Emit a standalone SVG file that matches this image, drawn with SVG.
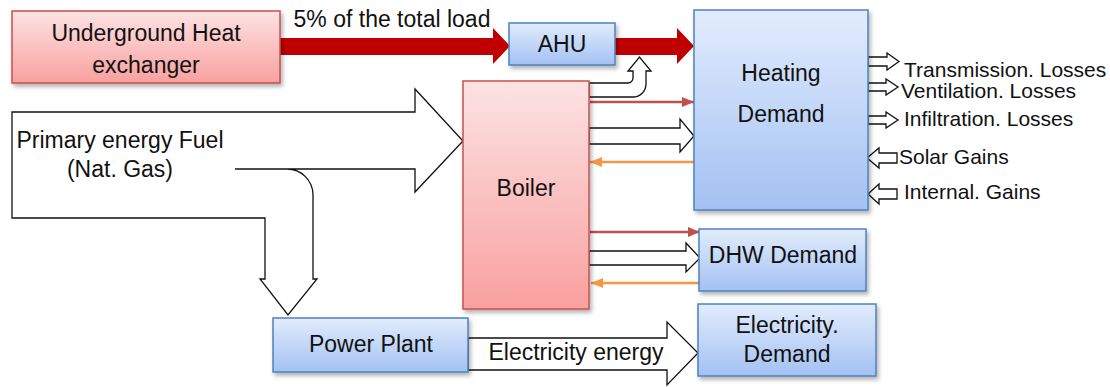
<svg xmlns="http://www.w3.org/2000/svg" width="1110" height="387" viewBox="0 0 1110 387">
<defs>
<linearGradient id="gRed" x1="0" y1="0" x2="0" y2="1"><stop offset="0" stop-color="#fde3e3"/><stop offset="1" stop-color="#f9a0a0"/></linearGradient>
<linearGradient id="gBlue" x1="0" y1="0" x2="0" y2="1"><stop offset="0" stop-color="#e2ecfd"/><stop offset="1" stop-color="#a3c1f3"/></linearGradient>
<filter id="sh" x="-10%" y="-10%" width="130%" height="130%"><feDropShadow dx="2" dy="3" stdDeviation="2" flood-color="#000" flood-opacity="0.3"/></filter>
<marker id="mRed" viewBox="0 0 12 10" refX="12" refY="5" markerWidth="12" markerHeight="10" markerUnits="userSpaceOnUse" orient="auto"><path d="M0,0 L12,5 L0,10 Z" fill="#c0504d"/></marker>
<marker id="mOr" viewBox="0 0 12 10" refX="12" refY="5" markerWidth="12" markerHeight="10" markerUnits="userSpaceOnUse" orient="auto"><path d="M0,0 L12,5 L0,10 Z" fill="#f79646"/></marker>
</defs>
<style>
text{font-family:"Liberation Sans",Arial,sans-serif;fill:#111;}
.t{font-size:23px;text-anchor:middle;}
.s{font-size:21px;}
.red{fill:url(#gRed);stroke:#c9504d;stroke-width:1.5;filter:url(#sh);}
.blue{fill:url(#gBlue);stroke:#4f81bd;stroke-width:1.5;filter:url(#sh);}
.wa{fill:#fff;stroke:#111;stroke-width:1.3;stroke-linejoin:miter;}
.big{fill:#c00000;stroke:none;}
.rl{stroke:#c0504d;stroke-width:2.5;fill:none;}
.ol{stroke:#f79646;stroke-width:2.5;fill:none;}
</style>

<g id="connectors">
<path class="wa" d="M12,112 H415 V89 L463,141 L415,192 V169 H287 A26,26 0 0 1 313,195 V279 H317 L288,315 L260,279 H265 V218 H12 Z"/>
<line x1="235" y1="169" x2="287" y2="169" stroke="#111" stroke-width="1.3"/>
<path class="big" d="M280,38 H493 V28 L510,46 L493,64 V55 H280 Z"/>
<path class="big" d="M615,38 H677 V28 L694,46 L677,64 V55 H615 Z"/>
<path class="wa" d="M589,83 H628 A5,5 0 0 0 633,78 V71 H628 L639.5,57 L651,71 H646 V84 A13,13 0 0 1 633,97 H589 Z"/>
<line class="rl" x1="590" y1="102" x2="694" y2="102" marker-end="url(#mRed)"/>
<path class="wa" d="M589,128 H680 V119 L694,136 L680,152 V144 H589 Z"/>
<line class="ol" x1="694" y1="162" x2="590" y2="162" marker-end="url(#mOr)"/>
<line class="rl" x1="590" y1="232" x2="700" y2="232" marker-end="url(#mRed)"/>
<path class="wa" d="M589,251 H686 V243 L700,258 L686,272 V265 H589 Z"/>
<line class="ol" x1="700" y1="283" x2="591" y2="283" marker-end="url(#mOr)"/>
<path class="wa" d="M468,338 H667 V322 L698,353 L667,385 V370 H468 Z"/>
<path class="wa" d="M868,57 H887 V53 L899,61.5 L887,70 V66 H868 Z"/>
<path class="wa" d="M868,83 H886 V79 L898,87 L886,95 V91 H868 Z"/>
<path class="wa" d="M868,116 H886 V112 L898,120 L886,128 V124 H868 Z"/>
<path class="wa" d="M867,158 L879,148 V153 H897 V163 H879 V168 Z"/>
<path class="wa" d="M868,194 L879,184 V189 H897 V199 H879 V204 Z"/>
</g>

<g id="underground">
<rect class="red" x="12" y="11" width="268" height="72"/>
<text class="t" x="146" y="41">Underground Heat</text>
<text class="t" x="146" y="73">exchanger</text>
</g>
<text id="load-label" class="t" x="392" y="27">5% of the total load</text>

<g id="ahu">
<rect class="blue" x="509" y="23" width="106" height="42"/>
<text class="t" x="562" y="52">AHU</text>
</g>

<g id="heating">
<rect class="blue" x="694" y="10" width="174" height="200"/>
<text class="t" x="781" y="81">Heating</text>
<text class="t" x="781" y="122">Demand</text>
</g>

<g id="boiler">
<rect class="red" x="463" y="81" width="126" height="228"/>
<text class="t" x="526" y="196">Boiler</text>
</g>

<g id="fuel">
<text class="t" x="120" y="148">Primary energy Fuel</text>
<text class="t" x="120" y="177">(Nat. Gas)</text>
</g>

<g id="dhw">
<rect class="blue" x="699" y="229" width="167" height="62"/>
<text class="t" x="783" y="263">DHW Demand</text>
</g>

<g id="powerplant">
<rect class="blue" x="273" y="318" width="195" height="54"/>
<text class="t" x="371" y="352">Power Plant</text>
</g>
<text id="elec-label" class="t" x="576" y="360">Electricity energy</text>

<g id="elecdemand">
<rect class="blue" x="698" y="304" width="178" height="72"/>
<text class="t" x="787" y="333">Electricity.</text>
<text class="t" x="787" y="362">Demand</text>
</g>

<g id="labels">
<text class="s" x="904" y="77">Transmission. Losses</text>
<text class="s" x="901" y="98">Ventilation. Losses</text>
<text class="s" x="904" y="126">Infiltration. Losses</text>
<text class="s" x="899" y="164">Solar Gains</text>
<text class="s" x="904" y="199">Internal. Gains</text>
</g>
</svg>
